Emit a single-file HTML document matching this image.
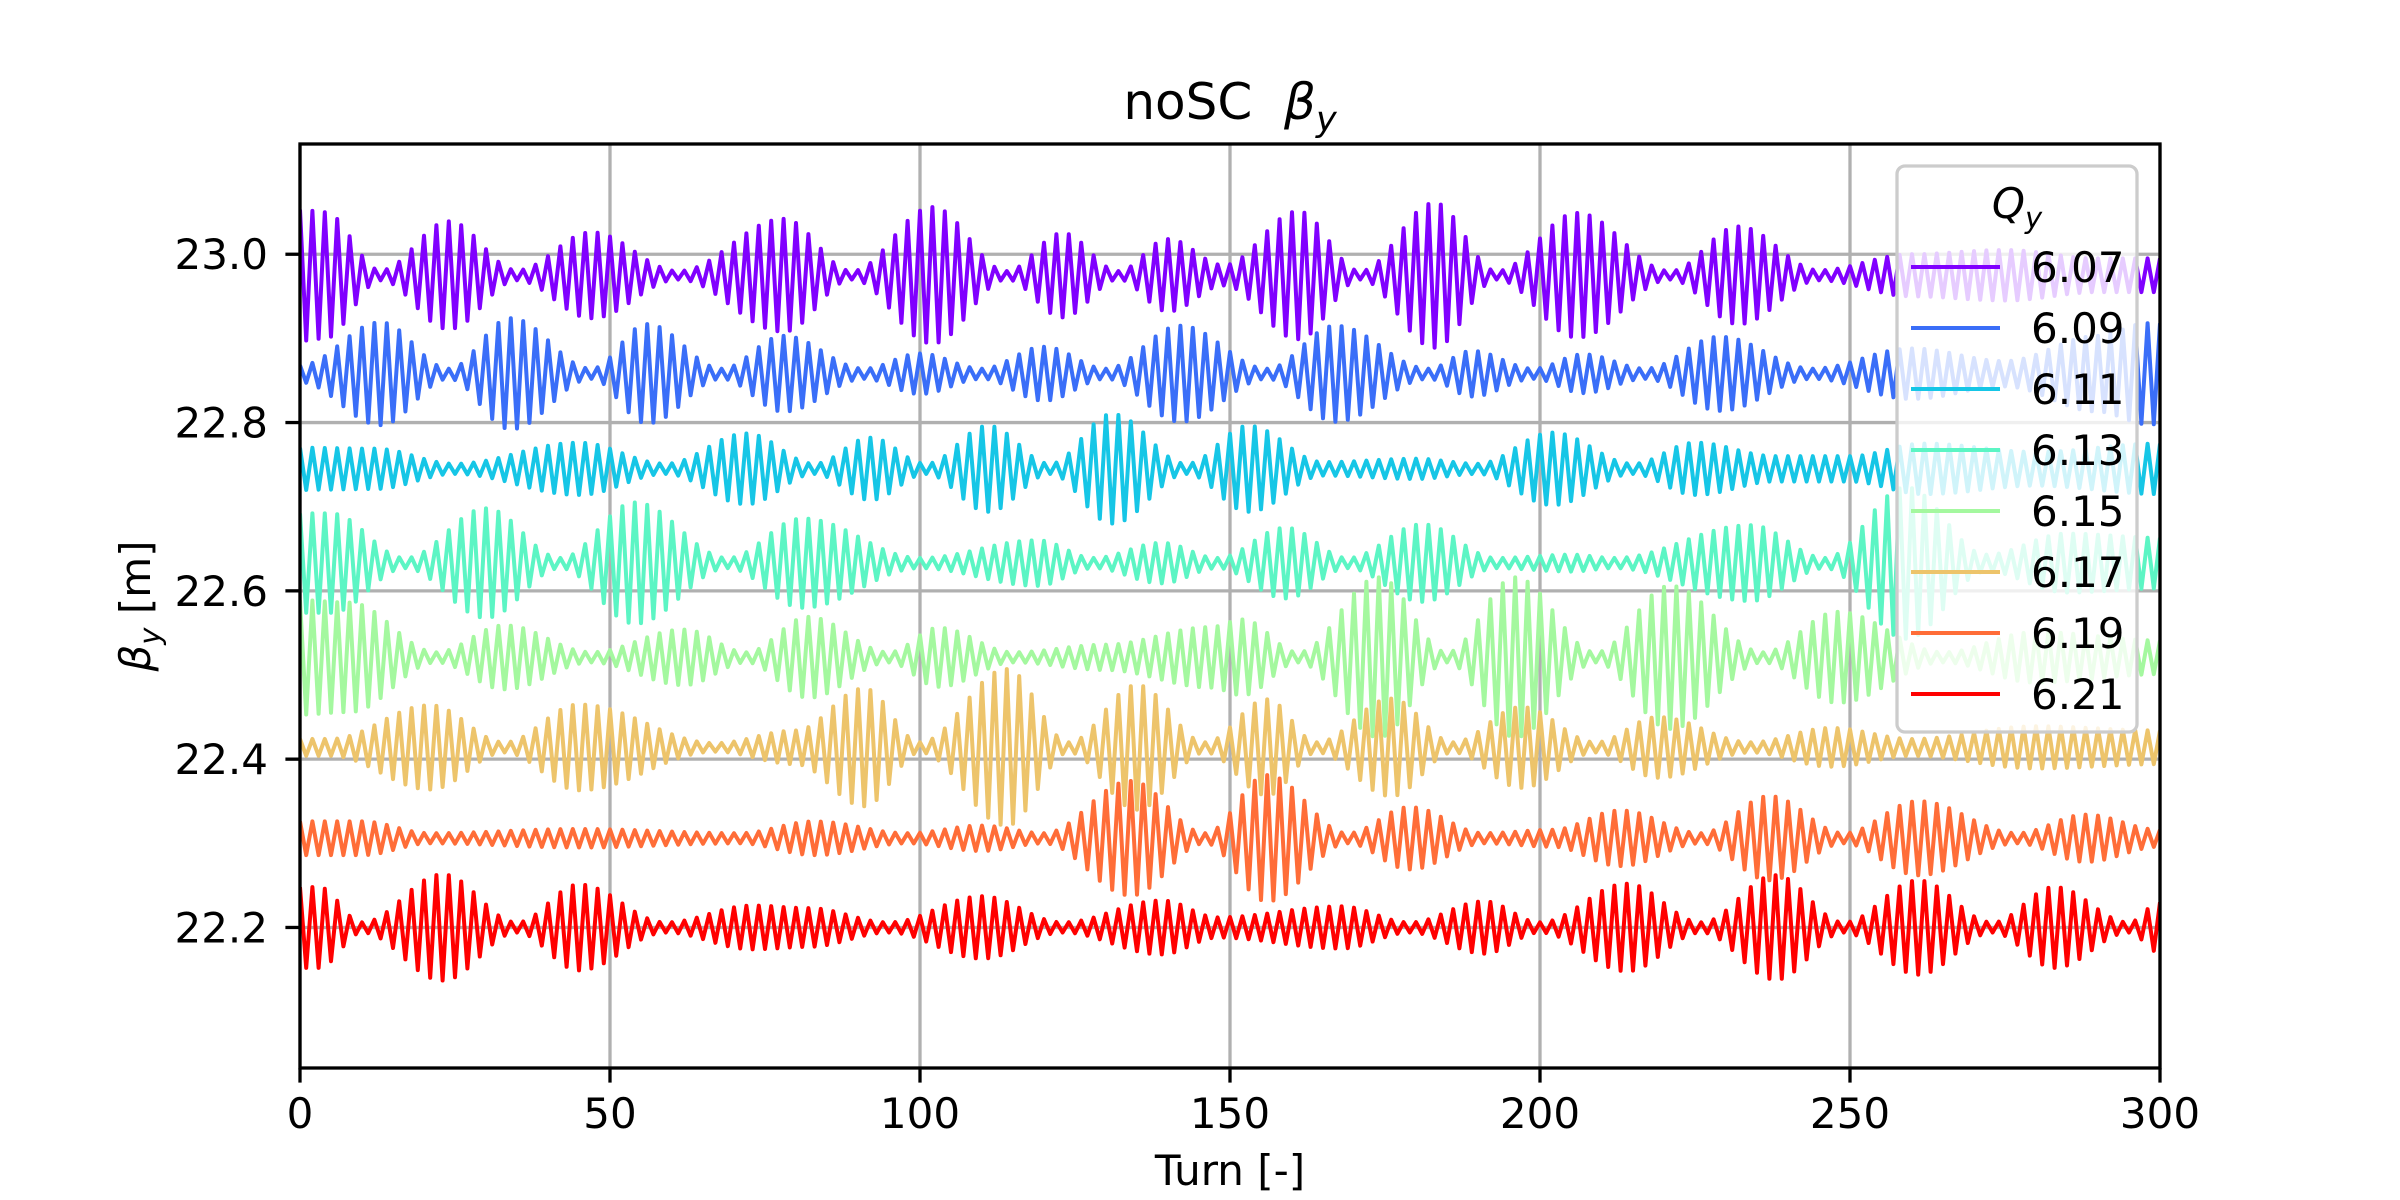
<!DOCTYPE html>
<html><head><meta charset="utf-8"><style>
html,body{margin:0;padding:0;background:#fff;}
svg{display:block;font-family:"DejaVu Sans","Liberation Sans",sans-serif;}
</style></head><body>
<svg id="chart" width="2400" height="1200" viewBox="0 0 2400 1200" xmlns="http://www.w3.org/2000/svg">
<rect x="0" y="0" width="2400" height="1200" fill="#fff"/>
<text x="1230" y="119" font-size="50" text-anchor="middle" xml:space="preserve" style="white-space:pre">noSC  <tspan font-style="italic">β</tspan><tspan font-style="italic" font-size="35" dy="12">y</tspan></text>
<g id="grid"></g>
<g id="series"></g>
<rect x="300" y="144" width="1860" height="924" fill="none" stroke="#000" stroke-width="3.3"/>
<g id="ticks"></g>
<text x="1230" y="1185" font-size="42" text-anchor="middle">Turn [-]</text>
<text transform="translate(150,606) rotate(-90)" font-size="42" text-anchor="middle"><tspan font-style="italic">β</tspan><tspan font-style="italic" font-size="29" dy="10">y</tspan><tspan dy="-10"> [m]</tspan></text>
<g id="legend"></g>
</svg>
<script>
const qLabels = ["6.07","6.09","6.11","6.13","6.15","6.17","6.19","6.21"];
const colors = ["#8000ff","#3a6ef8","#16c6e6","#5cf5c4","#a4f89f","#edc46b","#ff6d38","#ff0000"];
const means = [22.975,22.858,22.745,22.633,22.521,22.414,22.306,22.200];
const env0T = [0,4,13,24,35,47,61,78,89,102,114,123,132,140,149,161,171,183,193,206,221,232,245,260,275,290,300];
const env0A = [0.078,0.075,0.006,0.064,0.006,0.051,0.005,0.067,0.005,0.081,0.005,0.05,0.005,0.043,0.012,0.076,0.005,0.086,0.005,0.074,0.005,0.058,0.006,0.025,0.03,0.02,0.02];
const env1T = [0,13,24,34,47,56,68,78,91,100,110,120,130,142,156,167,182,189,199,207,217,229,244,260,275,290,298,300];
const env1A = [0.01,0.061,0.006,0.066,0.006,0.059,0.006,0.045,0.006,0.024,0.006,0.032,0.006,0.057,0.006,0.057,0.006,0.027,0.006,0.023,0.006,0.044,0.006,0.03,0.015,0.045,0.06,0.06];
const env2T = [0,12,25,45,59,72,83,92,101,111,121,131,143,153,165,180,190,202,215,225,238,250,262,280,300];
const env2A = [0.025,0.024,0.006,0.031,0.006,0.042,0.006,0.037,0.006,0.051,0.006,0.065,0.006,0.051,0.008,0.012,0.006,0.043,0.006,0.031,0.015,0.015,0.03,0.02,0.03];
const env3T = [0,5,17,30,42,54,69,81,100,119,128,139,148,159,169,181,193,205,212,234,246,259,272,285,300];
const env3A = [0.059,0.059,0.006,0.065,0.006,0.072,0.006,0.053,0.006,0.027,0.006,0.024,0.006,0.042,0.006,0.046,0.006,0.01,0.006,0.045,0.006,0.09,0.01,0.035,0.03];
const env4T = [0,8,22,33,47,62,72,82,95,103,115,130,147,152,161,174,185,196,209,221,236,248,265,280,300];
const env4A = [0.068,0.065,0.006,0.038,0.006,0.033,0.006,0.048,0.006,0.035,0.006,0.015,0.036,0.045,0.006,0.095,0.006,0.095,0.006,0.085,0.006,0.054,0.006,0.03,0.02];
const env5T = [0,5,21,33,45,67,80,91,100,114,124,135,146,156,164,176,186,197,209,219,234,247,260,280,300];
const env5A = [0.01,0.01,0.05,0.006,0.051,0.005,0.02,0.07,0.006,0.093,0.006,0.074,0.006,0.057,0.006,0.058,0.006,0.048,0.006,0.036,0.006,0.023,0.01,0.025,0.02];
const env6T = [0,10,21,45,71,83,98,110,120,134,146,156,169,179,191,202,213,226,237,249,261,277,288,300];
const env6A = [0.02,0.02,0.006,0.011,0.006,0.02,0.006,0.015,0.006,0.068,0.006,0.075,0.006,0.037,0.006,0.01,0.033,0.006,0.05,0.006,0.044,0.006,0.028,0.01];
const env7T = [0,3,10,23,35,45,59,73,82,95,110,123,139,148,168,179,191,200,214,226,238,249,261,273,283,295,300];
const env7A = [0.048,0.048,0.006,0.063,0.006,0.051,0.006,0.026,0.023,0.006,0.037,0.006,0.032,0.012,0.025,0.006,0.031,0.006,0.052,0.006,0.062,0.006,0.056,0.006,0.048,0.006,0.03];
const envTurns = [env0T,env1T,env2T,env3T,env4T,env5T,env6T,env7T];
const envAmps = [env0A,env1A,env2A,env3A,env4A,env5A,env6A,env7A];
const xTicks = [0,50,100,150,200,250,300];
const yTicks = [22.2,22.4,22.6,22.8,23.0];
const yTickLabels = ["22.2","22.4","22.6","22.8","23.0"];

const NS = "http://www.w3.org/2000/svg";
const X0 = 300, X1 = 2160, Y0 = 144, Y1 = 1068;
const XMIN = 0, XMAX = 300, YMIN = 22.033, YMAX = 23.131;
function xs(v){ return X0 + (v - XMIN) / (XMAX - XMIN) * (X1 - X0); }
function ys(v){ return Y1 - (v - YMIN) / (YMAX - YMIN) * (Y1 - Y0); }
function envAt(T, A, t){
  if (t <= T[0]) return A[0];
  for (let i = 1; i < T.length; i++){
    if (t <= T[i]){
      const f = (t - T[i-1]) / (T[i] - T[i-1]);
      const s = (1 - Math.cos(Math.PI * f)) / 2;
      return A[i-1] + (A[i] - A[i-1]) * s;
    }
  }
  return A[A.length - 1];
}
function mk(tag, attrs, parent){
  const e = document.createElementNS(NS, tag);
  for (const k in attrs) e.setAttribute(k, attrs[k]);
  parent.appendChild(e);
  return e;
}
const grid = document.getElementById('grid');
const ticks = document.getElementById('ticks');
xTicks.forEach((v, i) => {
  const gl = mk('line', {x1: xs(v), x2: xs(v), y1: Y0, y2: Y1, stroke: '#b0b0b0', 'stroke-width': 3.3}, grid);
  
  
  const tk = mk('line', {x1: xs(v), x2: xs(v), y1: Y1, y2: Y1 + 14.6, stroke: '#000', 'stroke-width': 3.3}, ticks);
  
  
  const tl = mk('text', {x: xs(v), y: 1128, 'font-size': 42, 'text-anchor': 'middle'}, ticks);
  tl.textContent = String(v);
  
  
});
yTicks.forEach((v, i) => {
  const gl = mk('line', {x1: X0, x2: X1, y1: ys(v), y2: ys(v), stroke: '#b0b0b0', 'stroke-width': 3.3}, grid);
  
  
  const tk = mk('line', {x1: X0 - 14.6, x2: X0, y1: ys(v), y2: ys(v), stroke: '#000', 'stroke-width': 3.3}, ticks);
  
  
  const tl = mk('text', {x: 268, y: ys(v) + 15, 'font-size': 42, 'text-anchor': 'end'}, ticks);
  tl.textContent = yTickLabels[i];
  
  
});
const sg = document.getElementById('series');
const clip = mk('clipPath', {id: 'plotclip'}, sg);
mk('rect', {x: X0, y: Y0, width: X1 - X0, height: Y1 - Y0}, clip);
for (let s = 0; s < qLabels.length; s++){
  let d = '';
  for (let t = XMIN; t <= XMAX; t++){
    const v = means[s] + envAt(envTurns[s], envAmps[s], t) * (t % 2 === 0 ? 1 : -1);
    d += (t === 0 ? 'M' : 'L') + xs(t).toFixed(1) + ',' + ys(v).toFixed(1);
  }
  const p = mk('path', {d: d, fill: 'none', stroke: colors[s], 'stroke-width': 4, 'stroke-linejoin': 'round', 'clip-path': 'url(#plotclip)'}, sg);
  
  
}
const lg = document.getElementById('legend');
const box = mk('rect', {x: 1897, y: 166, width: 240, height: 566, rx: 8, fill: 'rgba(255,255,255,0.8)', stroke: '#cccccc', 'stroke-width': 3.3}, lg);


const lt = mk('text', {x: 2017, y: 218, 'font-size': 42, 'text-anchor': 'middle', 'font-style': 'italic'}, lg);
lt.textContent = 'Q';


const lts = mk('tspan', {'font-size': 29, dy: 10}, lt);
lts.textContent = 'y';
for (let s = 0; s < qLabels.length; s++){
  const yy = 267 + s * 61;
  const ll = mk('line', {x1: 1911, x2: 2000, y1: yy, y2: yy, stroke: colors[s], 'stroke-width': 4}, lg);
  
  
  const tx = mk('text', {x: 2031, y: yy + 15, 'font-size': 42}, lg);
  tx.textContent = qLabels[s];
  
  
}
</script>
</body></html>
